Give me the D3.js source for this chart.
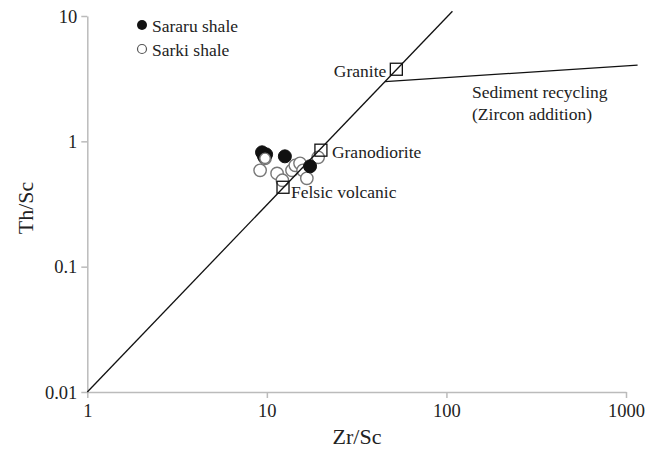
<!DOCTYPE html>
<html>
<head>
<meta charset="utf-8">
<script src="https://cdn.jsdelivr.net/npm/d3@7/dist/d3.min.js"></script>
<style>
html,body{margin:0;padding:0;background:#fff;}
</style>
</head>
<body>
<svg id="chart" width="651" height="450"></svg>
<script>
// ---- data ----
const xTicks = [1, 10, 100, 1000];
const yTicks = [0.01, 0.1, 1, 10];
const xTickLabels = ["1", "10", "100", "1000"];
const yTickLabels = ["0.01", "0.1", "1", "10"];

// Sararu shale (filled)
const sararuZrSc = [9.4, 9.9, 9.64, 12.6, 17.4];
const sararuThSc = [0.817, 0.787, 0.759, 0.759, 0.632];
// Sarki shale (open)
const sarkiZrSc = [9.77, 9.17, 11.4, 12.2, 13.8, 14.4, 15.3, 15.9, 16.7, 19.3];
const sarkiThSc = [0.732, 0.587, 0.555, 0.489, 0.587, 0.643, 0.668, 0.587, 0.507, 0.745];

// reference compositions
const refNames = ["Granite", "Granodiorite", "Felsic volcanic"];
const refZrSc = [52.6, 20.0, 12.3];
const refThSc = [3.76, 0.85, 0.43];

// trend lines
const mixLineZrSc = [1, 108];
const mixLineThSc = [0.01, 10.9];
const recycleZrSc = [45.5, 1160];
const recycleThSc = [3.0, 4.05];

// ---- drawing ----
const FONT = '"Liberation Serif", Tinos, "Times New Roman", Times, serif';
const svg = d3.select("#chart");
const x = d3.scaleLog().domain([1, 1000]).range([87.3, 626]);
const y = d3.scaleLog().domain([0.01, 10]).range([392, 16]);

function txt(xp, yp, s, size, anchor) {
  return svg.append("text").attr("x", xp).attr("y", yp)
    .attr("font-family", FONT).attr("font-size", size)
    .attr("fill", "#222").attr("text-anchor", anchor || "start").text(s);
}

const axisColor = "#bbb";
const xAxis = d3.axisBottom(x).tickValues(xTicks).tickFormat((d, i) => xTickLabels[i]).tickSize(6).tickSizeOuter(0);
const yAxis = d3.axisLeft(y).tickValues(yTicks).tickFormat((d, i) => yTickLabels[i]).tickSize(6).tickSizeOuter(0);

const gx = svg.append("g").attr("transform", "translate(0,392)").call(xAxis);
const gy = svg.append("g").attr("transform", "translate(87.3,0)").call(yAxis);
[gx, gy].forEach(g => {
  g.attr("font-family", FONT).attr("font-size", 18.5);
  g.select(".domain").attr("stroke", axisColor).attr("stroke-width", 1.5);
  g.selectAll(".tick line").attr("stroke", axisColor).attr("stroke-width", 1.5);
  g.selectAll(".tick text").attr("fill", "#222");
});
gx.selectAll(".tick text").attr("dy", 0).attr("y", 24.5);
gy.selectAll(".tick text").attr("x", -10).attr("dy", "0.33em");

// axis titles
txt(357, 444, "Zr/Sc", 22, "middle");
svg.append("text").attr("transform", "translate(33,208) rotate(-90)")
  .attr("font-family", FONT).attr("font-size", 22).attr("fill", "#222")
  .attr("text-anchor", "middle").text("Th/Sc");

const line = d3.line().x(d => x(d[0])).y(d => y(d[1]));

// data points
const sarki = sarkiZrSc.map((v, i) => [v, sarkiThSc[i]]);
const sararu = sararuZrSc.map((v, i) => [v, sararuThSc[i]]);

svg.append("g").selectAll("circle").data(sarki).join("circle")
  .attr("cx", d => x(d[0])).attr("cy", d => y(d[1])).attr("r", 6.2)
  .attr("fill", "#fff").attr("stroke", "#777").attr("stroke-width", 1.4);
svg.append("g").selectAll("circle").data(sararu).join("circle")
  .attr("cx", d => x(d[0])).attr("cy", d => y(d[1])).attr("r", 6.5)
  .attr("fill", "#111").attr("stroke", "#111");
// first Sarki point sits over the cluster of filled points
svg.append("circle").attr("cx", x(sarki[0][0])).attr("cy", y(sarki[0][1])).attr("r", 5.2)
  .attr("fill", "#fff").attr("stroke", "#777").attr("stroke-width", 1.4);

// lines
svg.append("path").attr("d", line(mixLineZrSc.map((v, i) => [v, mixLineThSc[i]])))
  .attr("fill", "none").attr("stroke", "#111").attr("stroke-width", 1.3);
svg.append("path").attr("d", line(recycleZrSc.map((v, i) => [v, recycleThSc[i]])))
  .attr("fill", "none").attr("stroke", "#111").attr("stroke-width", 1.3);

// reference boxes
svg.append("g").selectAll("rect").data(refZrSc).join("rect")
  .attr("x", (d) => x(d) - 6).attr("y", (d, i) => y(refThSc[i]) - 6)
  .attr("width", 12).attr("height", 12)
  .attr("fill", "none").attr("stroke", "#111").attr("stroke-width", 1.3);

// reference labels
txt(x(refZrSc[0]) - 10, 77, refNames[0], 17.5, "end");
txt(x(refZrSc[1]) + 11, 158, refNames[1], 17.5);
txt(x(refZrSc[2]) + 8, 198, refNames[2], 17.5);

txt(472, 98, "Sediment recycling", 17.5);
txt(472, 120, "(Zircon addition)", 17.5);

// legend
svg.append("circle").attr("cx", 142).attr("cy", 25).attr("r", 5).attr("fill", "#111");
txt(152, 31.5, "Sararu shale", 17.5);
svg.append("circle").attr("cx", 142).attr("cy", 49).attr("r", 4.5).attr("fill", "#fff").attr("stroke", "#555").attr("stroke-width", 1.2);
txt(152, 56, "Sarki shale", 17.5);
</script>
</body>
</html>
